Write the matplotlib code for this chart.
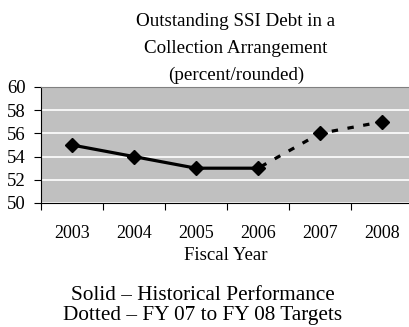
import matplotlib.pyplot as plt

# Data
years = ['2003', '2004', '2005', '2006', '2007', '2008']
historical = [55, 54, 53, 53]
targets = [53, 56, 57]

plt.rcParams['font.family'] = 'Liberation Serif'

fig = plt.figure(figsize=(4.1, 3.27), dpi=100)
ax = fig.add_axes([41 / 410, 124 / 327, 372 / 410, 116 / 327])

x_hist = list(range(len(historical)))
x_targ = list(range(len(historical) - 1, len(years)))

ax.set_facecolor('#c0c0c0')
ax.plot(x_hist, historical, color='black', lw=2.3, marker='D', ms=7, zorder=3)
ax.plot(x_targ, targets, color='black', lw=2.3, ls=(4, (2, 3)), zorder=3)
ax.plot(x_targ[1:], targets[1:], ls='none', color='black', marker='D', ms=7, zorder=3)

ax.set_xlim(-0.5, len(years) - 0.5)
ax.set_ylim(50, 60)
ax.set_yticks(range(50, 61, 2))
ax.yaxis.grid(True, color='white', lw=1.2)
ax.set_axisbelow(True)

# category ticks between labels
ax.set_xticks([i - 0.5 for i in range(len(years))])
ax.set_xticklabels([])
ax.set_xticks(range(len(years)), minor=True)
ax.set_xticklabels(years, minor=True, fontsize=13)
ax.tick_params(axis='x', which='minor', length=0, pad=16)
ax.tick_params(axis='x', which='major', length=5, color='black')
ax.tick_params(axis='y', labelsize=13.5, length=5, pad=6)

for s in ['top', 'right']:
    ax.spines[s].set_color('#808080')
for s in ['left', 'bottom']:
    ax.spines[s].set_color('black')

title_lines = ['Outstanding SSI Debt in a', 'Collection Arrangement', '(percent/rounded)']
for line, y in zip(title_lines, [26, 53, 80]):
    fig.text(236 / 410, 1 - y / 327, line, ha='center', va='baseline', fontsize=13.7)

fig.text(226 / 410, 1 - 260 / 327, 'Fiscal Year', ha='center', va='baseline', fontsize=13.5)
fig.text(203 / 410, 1 - 300 / 327, 'Solid \u2013 Historical Performance', ha='center', va='baseline', fontsize=15.3)
fig.text(203 / 410, 1 - 320 / 327, 'Dotted \u2013 FY 07 to FY 08 Targets', ha='center', va='baseline', fontsize=15.3)

fig.savefig('out.png', dpi=100)
